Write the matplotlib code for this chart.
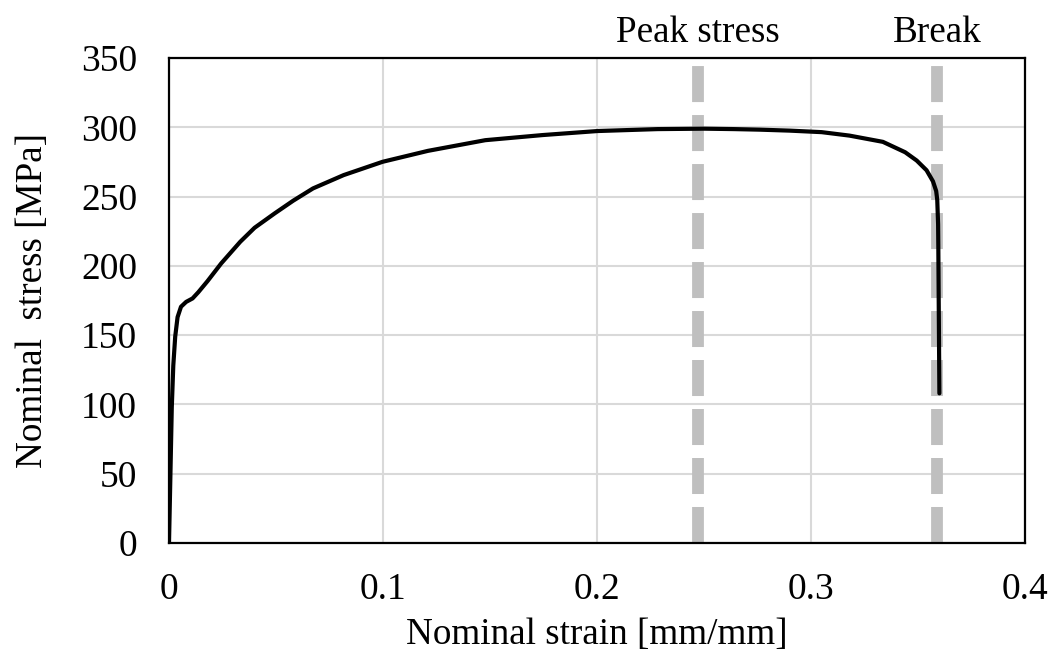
import matplotlib.pyplot as plt

# Nominal stress-strain curve
strain = [0.0, 0.0006, 0.0013, 0.0020, 0.0029, 0.0040, 0.0056, 0.0080, 0.0110, 0.0137,
          0.0180, 0.0244, 0.0333, 0.0400, 0.0494, 0.0580, 0.0673, 0.0816, 0.0998, 0.1210,
          0.1478, 0.1746, 0.2002, 0.2283, 0.2500, 0.2640, 0.2760, 0.2900, 0.3050, 0.3180,
          0.3336, 0.3440, 0.3494, 0.3540, 0.3570, 0.3585, 0.3590, 0.3594, 0.3595, 0.3598,
          0.3600]
stress = [0.0, 45, 98, 128, 149, 163, 170.5, 174, 176.5, 181,
          189, 201.8, 217.4, 227.5, 237.9, 247, 255.9, 265.5, 275.1, 283,
          290.7, 294.4, 297.3, 298.7, 299, 298.7, 298.3, 297.6, 296.5, 294,
          289.5, 282, 276, 269, 261, 254, 247.5, 230, 214, 150,
          108]

peak_strain = 0.247
break_strain = 0.359

plt.rcParams['font.family'] = ['Liberation Serif', 'DejaVu Serif']

fig = plt.figure(figsize=(10.53, 6.57), dpi=100)
ax = fig.add_axes([0.1605, 0.1735, 0.8129, 0.7382])

ax.grid(True, color='#d9d9d9', linewidth=1.5)
ax.set_axisbelow(True)

# vertical markers
for xv in [peak_strain, break_strain]:
    ax.axvline(xv, color='#bfbfbf', linewidth=8.5, linestyle=(0, (3.05, 1.1)), zorder=2)

ax.plot(strain, stress, color='black', linewidth=3, zorder=3,
        solid_capstyle='round', solid_joinstyle='round')

ax.set_xlim(0, 0.4)
ax.set_ylim(0, 350)
ax.set_xticks([0, 0.1, 0.2, 0.3, 0.4])
ax.set_xticklabels(['0', '0.1', '0.2', '0.3', '0.4'])
ax.set_yticks(range(0, 351, 50))
ax.tick_params(length=0, labelsize=27)
ax.tick_params(axis='x', pad=21)
ax.tick_params(axis='y', pad=23)

for s in ax.spines.values():
    s.set_linewidth(1.6)
    s.set_color('black')

ax.set_xlabel('Nominal strain [mm/mm]', fontsize=26.7, labelpad=8)
ax.set_ylabel('Nominal  stress [MPa]', fontsize=26.7, labelpad=22)

ax.text(peak_strain, 1.017, 'Peak stress', transform=ax.get_xaxis_transform(),
        ha='center', va='bottom', fontsize=26.7)
ax.text(break_strain, 1.017, 'Break', transform=ax.get_xaxis_transform(),
        ha='center', va='bottom', fontsize=26.7)

fig.savefig('out.png', dpi=100)
